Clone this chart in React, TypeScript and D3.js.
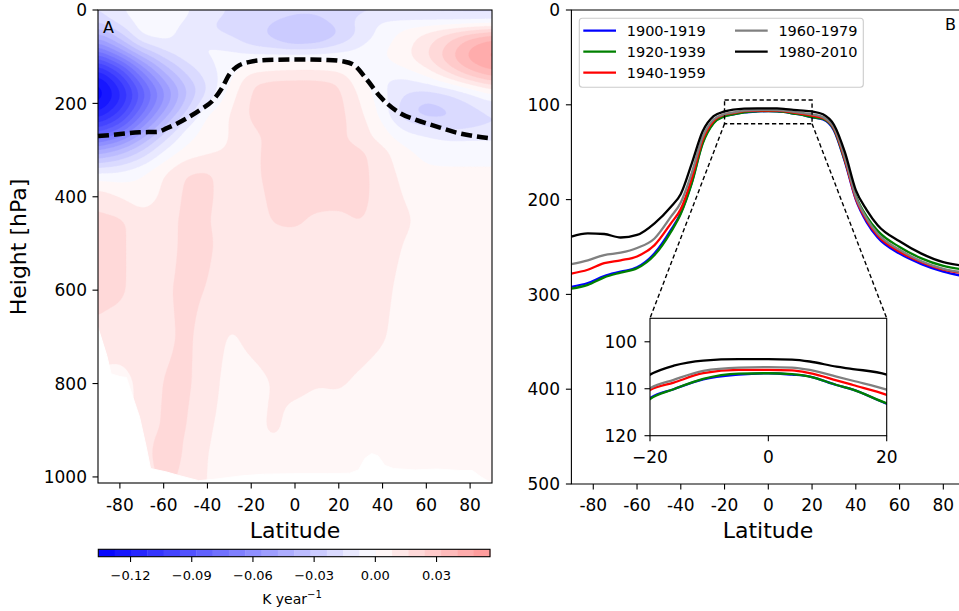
import React, { useEffect, useRef } from 'react';
import * as d3 from 'd3';

// ---- panel A : temperature trend, mK per year, rows = pressure levels, cols = latitude
const gridLats = [-90, -80, -70, -60, -50, -40, -30, -20, -10, 0, 10, 20, 30, 40, 50, 60, 70, 80, 90];
const gridPres = [0, 25, 50, 75, 100, 125, 150, 175, 200, 225, 250, 275, 300, 350, 400, 450, 500, 600, 700, 800, 900, 950, 1013];
const trendRows = [
  [-15, -8, -4, -4, -6, -12, -16, -18, -20, -22, -22, -20, -18, -18, -20, -20, -20, -20, -20],
  [-22, -12, -4, -3, -8, -15, -18, -20, -24, -26, -26, -20, -12, -6, -5, -6, -7, -8, -8],
  [-40, -25, -4, -4, -12, -15, -18, -22, -26, -36, -34, -26, -15, -5, 3, 10, 18, 26, 32],
  [-60, -40, -18, -10, -8, -6, -10, -18, -22, -26, -24, -16, -8, -2, 5, 14, 26, 40, 48],
  [-85, -65, -40, -22, -12, -8, -5, -4, -3, -2, -2, -3, -4, 0, 6, 16, 30, 44, 52],
  [-110, -90, -60, -36, -20, -10, -4, 3, 5, 6, 6, 5, -1, -4, 0, 8, 22, 36, 44],
  [-128, -105, -75, -48, -28, -14, -2, 16, 18, 18, 18, 16, 2, -8, -10, -4, 6, 18, 28],
  [-135, -115, -85, -58, -34, -16, 3, 17, 19, 20, 20, 18, 6, -6, -15, -18, -15, -8, 2],
  [-130, -112, -82, -55, -30, -8, 6, 18, 19, 20, 20, 19, 8, -4, -20, -26, -22, -16, -10],
  [-118, -100, -72, -45, -22, 2, 8, 18, 19, 20, 20, 19, 10, -3, -22, -28, -26, -20, -16],
  [-100, -85, -58, -32, -8, 4, 8, 16, 19, 20, 20, 19, 12, 2, -10, -15, -20, -18, -16],
  [-75, -62, -40, -18, -2, 4, 8, 14, 18, 20, 20, 18, 12, 4, -4, -6, -8, -8, -8],
  [-48, -38, -24, -8, 2, 6, 9, 14, 19, 20, 20, 19, 18, 11, 2, -3, -4, -4, -4],
  [-6, -5, 0, 8, 17, 18, 12, 14, 19, 20, 20, 20, 19, 12, 6, 2, 2, 2, 2],
  [14, 8, 3, 10, 18, 18, 12, 13, 18, 20, 20, 19, 19, 12, 8, 3, 3, 3, 3],
  [18, 18, 12, 13, 18, 17, 12, 12, 17, 18, 14, 14, 17, 12, 10, 5, 4, 4, 4],
  [18, 18, 12, 13, 18, 18, 12, 12, 13, 13, 13, 13, 12, 11, 8, 4, 4, 4, 4],
  [18, 18, 12, 15, 18, 16, 12, 12, 12, 12, 12, 12, 11, 10, 6, 4, 4, 4, 4],
  [15, 12, 12, 14, 18, 13, 7, 10, 11, 11, 11, 11, 11, 9, 5, 4, 4, 4, 4],
  [4, 5, 10, 17, 18, 12, 5, 6, 8.5, 10, 8.5, 9, 7, 5, 4, 4, 4, 4, 4],
  [5, 5, 10, 18, 17, 9, 5, 5, 10, 5, 4, 4, 4, 4, 4, 4, 4, 4, 4],
  [4, 4, 8, 26, 14, 8, 5, 4, 5, 4, 4, 4, 4, 4, 4, 4, 4, 4, 4],
  [4, 4, 6, 20, 12, 8, 4, 4, 4, 4, 4, 4, 4, 4, 4, 4, 4, 4, 4],
];

// surface pressure (white below it)
const surfLats = [-90, -86, -84, -80, -77, -74, -71, -68, -66, -59, -53, -44, -37, -25, -14, 0, 15, 25, 29, 32, 35, 38, 41, 45, 55, 65, 75, 81, 85, 88, 90];
const surfPres = [680, 740, 779, 785, 787, 830, 872, 935, 982, 989, 997, 1008, 1005, 998, 994, 993, 993, 992, 985, 960, 950, 955, 975, 982, 985, 983, 986, 986, 1000, 1008, 1013];

// mean tropopause (dashed)
const tropLats = [-90, -85, -71, -63, -58.5, -49.5, -43.4, -37.4, -33.5, -29.7, -26.7, -20.6, -12.9, 2.3, 15, 22, 27, 33, 39, 48, 55, 63, 75, 90];
const tropPres = [270, 268, 262, 261, 253, 232, 214, 193, 168, 136, 122, 111, 107, 106, 107, 110, 118, 150, 186, 221, 235, 247, 264, 275];

const cbTicks = [-120, -90, -60, -30, 0, 30];

// ---- panel B : tropopause pressure per period
const periodLats = [-90, -82.5, -75, -67.5, -60, -52, -44.5, -40, -35, -30, -25, -20, -16, -11, -5, 0, 4, 7, 11.5, 14.3, 20, 25, 30, 35, 40, 45, 50, 60, 70, 80, 90];
const p1900 = [292, 288, 280.6, 276, 271.5, 256.7, 232, 214, 182, 140, 119, 112.0, 110.1, 108.0, 107.0, 106.7, 107.0, 107.4, 109.2, 110.2, 113.2, 115.5, 127, 160, 200, 224, 240, 257, 268, 276, 281];
const p1920 = [294, 290, 282, 277, 272.5, 258.5, 234, 215, 183, 141, 119.5, 112.2, 110.1, 107.9, 106.8, 106.7, 106.9, 107.4, 109.2, 110.2, 113.1, 115, 126, 159, 196, 218, 233, 250, 262, 270, 274];
const p1940 = [278, 274, 267, 264, 260, 248, 225, 210, 178, 137, 117, 110.3, 108.7, 106.7, 106.0, 106.0, 106.1, 106.7, 108.2, 109.2, 111.3, 114, 125, 158, 199, 222, 238, 255, 266, 274, 278];
const p1960 = [268, 264, 258.5, 256, 251, 241, 218, 203, 172, 134, 115.5, 109.9, 108.1, 106.2, 105.5, 105.4, 105.5, 106.0, 107.4, 108.3, 110.2, 113, 124, 156, 197, 220, 236, 253, 265, 273, 277];
const p1980 = [239, 235.6, 236.3, 240, 237.3, 225, 207.5, 194, 162, 128, 112, 107.0, 105.1, 104.0, 103.7, 103.7, 103.8, 104.2, 105.3, 105.8, 107.0, 110, 121, 150, 190, 211, 227, 244, 257, 266, 270];
const periodNames = ['1900-1919', '1920-1939', '1940-1959', '1960-1979', '1980-2010'];
const periodColors = ['#0000ff', '#008000', '#ff0000', '#808080', '#000000'];

const latTicks = [-80, -60, -40, -20, 0, 20, 40, 60, 80];

const bwr = (t: number) => {
  const c = (v: number) => Math.round(255 * Math.max(0, Math.min(1, v)));
  return t < 0.5 ? `rgb(${c(2 * t)},${c(2 * t)},255)` : `rgb(255,${c(2 * (1 - t))},${c(2 * (1 - t))})`;
};

const App = () => {
  const ref = useRef<SVGSVGElement>(null);

  useEffect(() => {
    const svg = d3.select(ref.current);
    svg.selectAll('*').remove();
    const font = 'DejaVu Sans, sans-serif';
    const defs = svg.append('defs');

    // ================= panel A
    const xA = d3.scaleLinear().domain([-90, 90]).range([98, 492]);
    const yA = d3.scaleLinear().domain([0, 1013]).range([10, 483]);

    const interp = (lat: number, p: number) => {
      const i = Math.max(0, Math.min(d3.bisectRight(gridLats, lat) - 1, gridLats.length - 2));
      const j = Math.max(0, Math.min(d3.bisectRight(gridPres, p) - 1, gridPres.length - 2));
      const tx = (lat - gridLats[i]) / (gridLats[i + 1] - gridLats[i]);
      const ty = (p - gridPres[j]) / (gridPres[j + 1] - gridPres[j]);
      const a = trendRows[j][i] * (1 - tx) + trendRows[j][i + 1] * tx;
      const b = trendRows[j + 1][i] * (1 - tx) + trendRows[j + 1][i + 1] * tx;
      return a * (1 - ty) + b * ty;
    };

    const nx = 361, ny = 508;
    const dLat = 180 / (nx - 1), dP = 1013 / (ny - 1);
    const values = new Float64Array(nx * ny);
    for (let j = 0; j < ny; j++) {
      for (let i = 0; i < nx; i++) values[j * nx + i] = interp(-90 + i * dLat, j * dP);
    }
    d3.blur2({ data: values, width: nx, height: ny }, 5, 6);

    const vmax = 135.8;
    const levels = d3.range(24).map(k => -vmax + 8 * k);
    const contours = d3.contours().size([nx, ny]).thresholds(levels)(values as any);
    const proj = d3.geoTransform({
      point: function (this: any, x: number, y: number) {
        this.stream.point(xA(-90 + (x - 0.5) * dLat), yA((y - 0.5) * dP));
      },
    });
    const geo = d3.geoPath(proj);

    defs.append('clipPath').attr('id', 'clipA')
      .append('rect').attr('x', 98).attr('y', 10).attr('width', 394).attr('height', 473);

    const gField = svg.append('g').attr('clip-path', 'url(#clipA)');
    gField.selectAll('path.band')
      .data(contours)
      .enter()
      .append('path')
      .attr('class', 'band')
      .attr('d', d => geo(d as any))
      .attr('fill', d => bwr(0.5 + (d.value + 4) / (2 * vmax)))
      .attr('stroke', (d, i) => (i === 0 ? 'none' : bwr(0.5 + (d.value + 4) / (2 * vmax))))
      .attr('stroke-width', 0.3);

    // below the surface: white
    const groundPts: [number, number][] = surfLats.map((lat, k) => [xA(lat), yA(surfPres[k])]);
    groundPts.push([xA(90) + 3, yA(1013) + 3], [xA(-90) - 3, yA(1013) + 3]);
    gField.append('path')
      .attr('d', d3.line()(groundPts) + 'Z')
      .attr('fill', '#fff')
      .attr('stroke', '#fff')
      .attr('stroke-width', 1);

    const tropLine = d3.line<number>()
      .x((d, i) => xA(tropLats[i]))
      .y(d => yA(d))
      .curve(d3.curveMonotoneX);
    svg.append('path')
      .attr('d', tropLine(tropPres))
      .attr('fill', 'none')
      .attr('stroke', '#000')
      .attr('stroke-width', 4.5)
      .attr('stroke-dasharray', '11 5');

    svg.append('rect')
      .attr('x', 98).attr('y', 10).attr('width', 394).attr('height', 473)
      .attr('fill', 'none').attr('stroke', '#000').attr('stroke-width', 1.1);

    const gA = svg.append('g').attr('font-family', font).attr('fill', '#000');
    [0, 200, 400, 600, 800, 1000].forEach(v => {
      gA.append('line').attr('x1', 92.5).attr('x2', 98).attr('y1', yA(v)).attr('y2', yA(v)).attr('stroke', '#000').attr('stroke-width', 1.1);
      gA.append('text').attr('x', 87).attr('y', yA(v)).attr('dy', '0.36em').attr('text-anchor', 'end').attr('font-size', 17).text(v);
    });
    latTicks.forEach(v => {
      gA.append('line').attr('x1', xA(v)).attr('x2', xA(v)).attr('y1', 483).attr('y2', 488.5).attr('stroke', '#000').attr('stroke-width', 1.1);
      gA.append('text').attr('x', xA(v)).attr('y', 511).attr('text-anchor', 'middle').attr('font-size', 17).text(String(v));
    });
    gA.append('text').attr('x', 295).attr('y', 538).attr('text-anchor', 'middle').attr('font-size', 22).text('Latitude');
    gA.append('text').attr('transform', 'translate(26,247) rotate(-90)').attr('text-anchor', 'middle').attr('font-size', 22).text('Height [hPa]');
    gA.append('text').attr('x', 103).attr('y', 33).attr('font-size', 16).text('A');

    // colorbar
    const cb = d3.scaleLinear().domain([-vmax, -vmax + 8 * 24]).range([98.3, 490]);
    svg.append('g').selectAll('rect')
      .data(levels)
      .enter()
      .append('rect')
      .attr('x', d => cb(d))
      .attr('y', 549.3)
      .attr('width', d => cb(d + 8) - cb(d) + 0.4)
      .attr('height', 7.4)
      .attr('fill', d => bwr(0.5 + (d + 4) / (2 * vmax)));
    svg.append('rect').attr('x', 98.3).attr('y', 549.3).attr('width', 391.7).attr('height', 7.4)
      .attr('fill', 'none').attr('stroke', '#000').attr('stroke-width', 1.1);
    const gCb = svg.append('g').attr('font-family', font);
    cbTicks.forEach(v => {
      gCb.append('line').attr('x1', cb(v)).attr('x2', cb(v)).attr('y1', 556.7).attr('y2', 562).attr('stroke', '#000').attr('stroke-width', 1.1);
      gCb.append('text').attr('x', cb(v)).attr('y', 580).attr('text-anchor', 'middle').attr('font-size', 13)
        .text((v / 1000).toFixed(2).replace('-', '\u2212'));
    });
    const cbLab = gCb.append('text').attr('x', 292).attr('y', 603.5).attr('text-anchor', 'middle').attr('font-size', 14);
    cbLab.append('tspan').text('K year');
    cbLab.append('tspan').attr('dy', -6).attr('font-size', 10).text('\u22121');

    // ================= panel B
    const xB = d3.scaleLinear().domain([-90, 90]).range([571.4, 965.2]);
    const yB = d3.scaleLinear().domain([0, 500]).range([10, 484]);
    const series = [p1900, p1920, p1940, p1960, p1980];

    const lineB = d3.line<number>().x((d, i) => xB(periodLats[i])).y(d => yB(d)).curve(d3.curveMonotoneX);
    series.forEach((s, k) => {
      svg.append('path').attr('d', lineB(s)).attr('fill', 'none')
        .attr('stroke', periodColors[k]).attr('stroke-width', 2.3);
    });

    // zoom box + connectors
    svg.append('rect')
      .attr('x', xB(-20)).attr('y', yB(95)).attr('width', xB(20) - xB(-20)).attr('height', yB(120) - yB(95))
      .attr('fill', 'none').attr('stroke', '#000').attr('stroke-width', 1.4).attr('stroke-dasharray', '4.3 2.7');

    const xI = d3.scaleLinear().domain([-20, 20]).range([650, 886.7]);
    const yI = d3.scaleLinear().domain([95, 120]).range([318.3, 435.7]);
    [-20, 20].forEach(lat => {
      svg.append('line')
        .attr('x1', xB(lat)).attr('y1', yB(120)).attr('x2', xI(lat)).attr('y2', yI(95))
        .attr('stroke', '#000').attr('stroke-width', 1.4).attr('stroke-dasharray', '4.3 2.7');
    });

    // inset
    svg.append('rect').attr('x', 650).attr('y', 318.3).attr('width', 236.7).attr('height', 117.4).attr('fill', '#fff');
    defs.append('clipPath').attr('id', 'clipI')
      .append('rect').attr('x', 650).attr('y', 318.3).attr('width', 236.7).attr('height', 117.4);
    const lineI = d3.line<number>().x((d, i) => xI(periodLats[i])).y(d => yI(d)).curve(d3.curveMonotoneX);
    const gIn = svg.append('g').attr('clip-path', 'url(#clipI)');
    series.forEach((s, k) => {
      gIn.append('path').attr('d', lineI(s)).attr('fill', 'none')
        .attr('stroke', periodColors[k]).attr('stroke-width', 2.3);
    });
    svg.append('rect').attr('x', 650).attr('y', 318.3).attr('width', 236.7).attr('height', 117.4)
      .attr('fill', 'none').attr('stroke', '#000').attr('stroke-width', 1.1);
    const gI = svg.append('g').attr('font-family', font);
    [100, 110, 120].forEach(v => {
      gI.append('line').attr('x1', 644.5).attr('x2', 650).attr('y1', yI(v)).attr('y2', yI(v)).attr('stroke', '#000').attr('stroke-width', 1.1);
      gI.append('text').attr('x', 637).attr('y', yI(v)).attr('dy', '0.36em').attr('text-anchor', 'end').attr('font-size', 17).text(v);
    });
    [-20, 0, 20].forEach(v => {
      gI.append('line').attr('x1', xI(v)).attr('x2', xI(v)).attr('y1', 435.7).attr('y2', 441.2).attr('stroke', '#000').attr('stroke-width', 1.1);
      gI.append('text').attr('x', xI(v)).attr('y', 463).attr('text-anchor', 'middle').attr('font-size', 17)
        .text(String(v).replace('-', '\u2212'));
    });

    // B axes
    const gB = svg.append('g').attr('font-family', font);
    gB.append('path').attr('d', `M965.2,10H571.4V484H965.2`).attr('fill', 'none').attr('stroke', '#000').attr('stroke-width', 1.1);
    [0, 100, 200, 300, 400, 500].forEach(v => {
      gB.append('line').attr('x1', 565.9).attr('x2', 571.4).attr('y1', yB(v)).attr('y2', yB(v)).attr('stroke', '#000').attr('stroke-width', 1.1);
      gB.append('text').attr('x', 560).attr('y', yB(v)).attr('dy', '0.36em').attr('text-anchor', 'end').attr('font-size', 17).text(v);
    });
    latTicks.forEach(v => {
      gB.append('line').attr('x1', xB(v)).attr('x2', xB(v)).attr('y1', 484).attr('y2', 489.5).attr('stroke', '#000').attr('stroke-width', 1.1);
      gB.append('text').attr('x', xB(v)).attr('y', 511).attr('text-anchor', 'middle').attr('font-size', 17).text(String(v));
    });
    gB.append('text').attr('x', 768).attr('y', 538).attr('text-anchor', 'middle').attr('font-size', 22).text('Latitude');
    gB.append('text').attr('x', 945).attr('y', 30).attr('font-size', 16).text('B');

    // legend
    const gL = svg.append('g').attr('font-family', font);
    gL.append('rect').attr('x', 579.3).attr('y', 18.3).attr('width', 284).attr('height', 69).attr('rx', 3)
      .attr('fill', '#fff').attr('fill-opacity', 0.8).attr('stroke', '#cccccc').attr('stroke-width', 1.1);
    periodNames.forEach((name, k) => {
      const col = k < 3 ? 0 : 1;
      const row = k < 3 ? k : k - 3;
      const x0 = col === 0 ? 583.3 : 735;
      const y0 = 30.7 + row * 21;
      gL.append('line').attr('x1', x0).attr('x2', x0 + 32.7).attr('y1', y0).attr('y2', y0)
        .attr('stroke', periodColors[k]).attr('stroke-width', 2.3);
      gL.append('text').attr('x', x0 + 43.4).attr('y', y0).attr('dy', '0.36em').attr('font-size', 14.5).text(name);
    });
  }, []);

  return (
    <svg
      ref={ref}
      width={959}
      height={611}
      style={{ position: 'absolute', left: 0, top: 0, background: '#fff', display: 'block' }}
    />
  );
};

export default App;
